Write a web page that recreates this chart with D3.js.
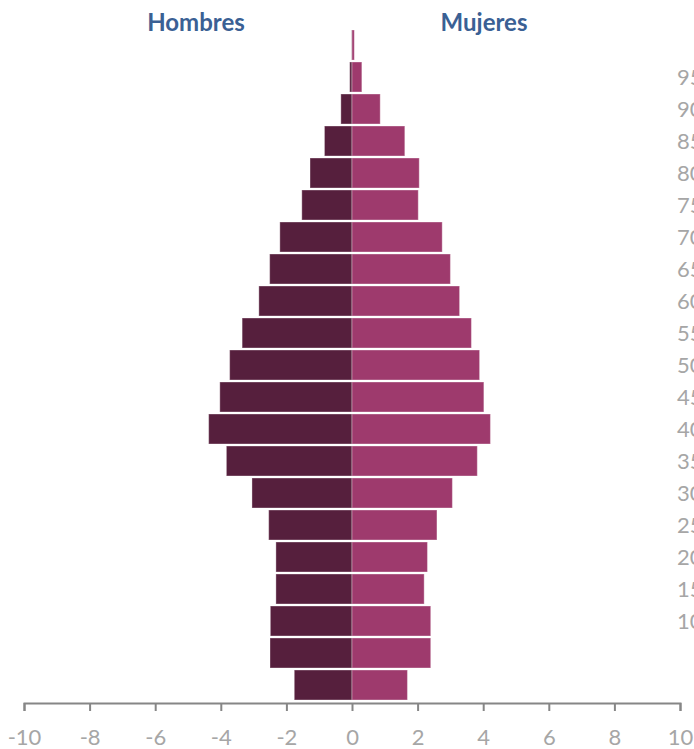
<!DOCTYPE html>
<html>
<head>
<meta charset="utf-8">
<script src="https://cdn.jsdelivr.net/npm/d3@7"></script>
<style>
  html, body { margin: 0; padding: 0; background: #fff; }
  svg { display: block; }
</style>
</head>
<body>
<svg id="chart" width="694" height="749"></svg>
<script>
// Age groups (bottom to top)
const ages = ["0","5","10","15","20","25","30","35","40","45","50","55","60","65","70","75","80","85","90","95","100"];
// Percent of population, men (plotted to the left)
const hombres = [1.76, 2.50, 2.49, 2.32, 2.32, 2.54, 3.05, 3.83, 4.37, 4.03, 3.73, 3.35, 2.84, 2.51, 2.20, 1.53, 1.28, 0.84, 0.34, 0.07, 0.01];
// Percent of population, women (plotted to the right)
const mujeres = [1.69, 2.40, 2.40, 2.20, 2.30, 2.59, 3.06, 3.82, 4.22, 4.02, 3.89, 3.64, 3.28, 3.00, 2.75, 2.02, 2.05, 1.61, 0.86, 0.30, 0.07];
// Axis tick values
const xTicks = [-10, -8, -6, -4, -2, 0, 2, 4, 6, 8, 10];
const yLabels = ["10","15","20","25","30","35","40","45","50","55","60","65","70","75","80","85","90","95"];
const titles = ["Hombres", "Mujeres"];

const svg = d3.select("#chart");
const font = "Lato, 'Open Sans', 'Liberation Sans', sans-serif";

const x = d3.scaleLinear().domain([-10, 10]).range([24, 680]);
const y = d3.scaleBand().domain(ages).range([701, 29]).paddingInner(0.0625).paddingOuter(0.03125);

const rows = ages.map((a, i) => ({ age: a, h: hombres[i], m: mujeres[i] }));

// Men bars
svg.append("g").selectAll("rect").data(rows).join("rect")
  .attr("x", d => x(-d.h))
  .attr("y", d => y(d.age))
  .attr("width", d => x(0) - x(-d.h))
  .attr("height", y.bandwidth())
  .attr("fill", "#561f3d")
  .attr("stroke", "rgba(255,255,255,0.35)")
  .attr("stroke-width", 1);

// Women bars
svg.append("g").selectAll("rect").data(rows).join("rect")
  .attr("x", x(0))
  .attr("y", d => y(d.age))
  .attr("width", d => x(d.m) - x(0))
  .attr("height", y.bandwidth())
  .attr("fill", "#9e3a6d")
  .attr("stroke", "rgba(255,255,255,0.35)")
  .attr("stroke-width", 1);

// X axis
const xAxis = d3.axisBottom(x).tickValues(xTicks).tickSize(8).tickPadding(18).tickFormat(d3.format("d"));
const gx = svg.append("g").attr("transform", "translate(0,703)").call(xAxis);
gx.select(".domain").attr("stroke", "#868686").attr("stroke-width", 2);
gx.selectAll(".tick line").attr("stroke", "#868686").attr("stroke-width", 2);
gx.selectAll(".tick text")
  .attr("fill", "#a6a6a6")
  .style("font-family", font)
  .style("font-size", "22px")
  .text(d => d < 0 ? "-" + Math.abs(d) : String(d));

// Right-side age labels
svg.append("g").selectAll("text").data(yLabels).join("text")
  .attr("x", 677)
  .attr("y", d => y(d) + y.bandwidth() / 2)
  .attr("dy", "0.35em")
  .attr("fill", "#a6a6a6")
  .style("font-family", font)
  .style("font-size", "22px")
  .text(d => d);

// Titles
svg.append("g").selectAll("text").data(titles).join("text")
  .attr("x", (d, i) => i === 0 ? 196 : 484)
  .attr("y", 31)
  .attr("text-anchor", "middle")
  .attr("fill", "#3a6094")
  .style("font-family", font)
  .style("font-weight", "bold")
  .style("font-size", "24px")
  .text(d => d);
</script>
</body>
</html>
